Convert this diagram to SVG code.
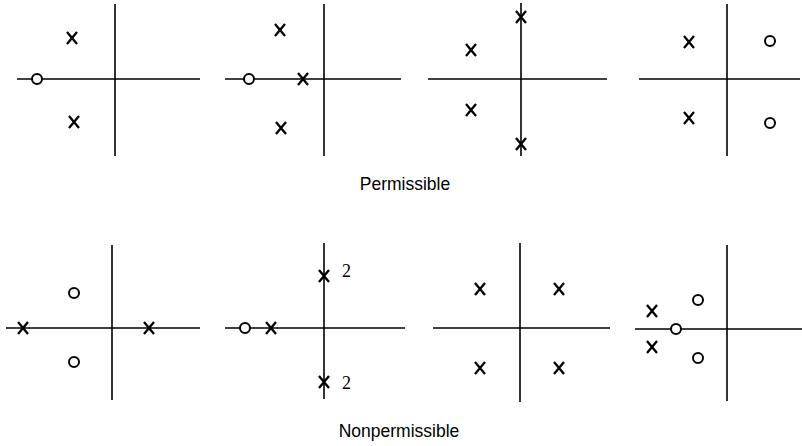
<svg xmlns="http://www.w3.org/2000/svg" xmlns:xlink="http://www.w3.org/1999/xlink" width="802" height="446" viewBox="0 0 802 446">
<style>
.ax{stroke:#000;stroke-width:1.6;fill:none}
.pole{stroke:#000;stroke-width:2.3;fill:none;stroke-linecap:butt}
.zero{stroke:#000;stroke-width:2;fill:#fff}
.lbl{font-family:"Liberation Sans",Arial,sans-serif;font-size:17.5px;fill:#000}
.mult{font-family:"Liberation Serif","Times New Roman",serif;font-size:18px;fill:#000}
</style>
<defs>
<path id="x" class="pole" d="M-5,-6 L5,6 M5,-6 L-5,6"/>
<circle id="o" class="zero" r="5"/>
</defs>
<g id="connectors">
<line class="ax" x1="115" y1="4" x2="115" y2="156"/>
<line class="ax" x1="17" y1="79" x2="200" y2="79"/>
<line class="ax" x1="324" y1="4" x2="324" y2="156"/>
<line class="ax" x1="225" y1="79" x2="401" y2="79"/>
<line class="ax" x1="521" y1="3" x2="521" y2="156"/>
<line class="ax" x1="428" y1="79" x2="607" y2="79"/>
<line class="ax" x1="727" y1="4" x2="727" y2="156"/>
<line class="ax" x1="639" y1="79" x2="800" y2="79"/>
<line class="ax" x1="112" y1="245" x2="112" y2="400"/>
<line class="ax" x1="6" y1="328" x2="200" y2="328"/>
<line class="ax" x1="324" y1="243" x2="324" y2="399"/>
<line class="ax" x1="225" y1="328" x2="405" y2="328"/>
<line class="ax" x1="520" y1="243" x2="520" y2="402"/>
<line class="ax" x1="433" y1="328" x2="610" y2="328"/>
<line class="ax" x1="727" y1="245" x2="727" y2="401"/>
<line class="ax" x1="635" y1="329" x2="802" y2="329"/>
</g>
<g id="p1">
<use xlink:href="#o" x="37" y="79"/>
<use xlink:href="#x" x="72" y="38"/>
<use xlink:href="#x" x="74" y="122"/>
</g>
<g id="p2">
<use xlink:href="#o" x="249" y="79"/>
<use xlink:href="#x" x="303" y="79"/>
<use xlink:href="#x" x="280" y="30"/>
<use xlink:href="#x" x="281" y="128"/>
</g>
<g id="p3">
<use xlink:href="#x" x="471" y="50"/>
<use xlink:href="#x" x="471" y="110"/>
<use xlink:href="#x" x="521" y="17"/>
<use xlink:href="#x" x="521" y="144"/>
</g>
<g id="p4">
<use xlink:href="#x" x="689" y="42"/>
<use xlink:href="#x" x="689" y="118"/>
<use xlink:href="#o" x="770" y="41"/>
<use xlink:href="#o" x="770" y="123"/>
</g>
<g id="label-permissible">
<text class="lbl" x="405" y="190" text-anchor="middle">Permissible</text>
</g>
<g id="p5">
<use xlink:href="#x" x="23" y="328"/>
<use xlink:href="#x" x="149" y="328"/>
<use xlink:href="#o" x="74" y="293"/>
<use xlink:href="#o" x="74" y="362"/>
</g>
<g id="p6">
<use xlink:href="#o" x="245" y="328"/>
<use xlink:href="#x" x="271" y="328"/>
<use xlink:href="#x" x="324" y="276"/>
<use xlink:href="#x" x="324" y="382"/>
<text class="mult" x="342" y="277">2</text>
<text class="mult" x="342" y="389">2</text>
</g>
<g id="p7">
<use xlink:href="#x" x="480" y="289"/>
<use xlink:href="#x" x="559" y="289"/>
<use xlink:href="#x" x="480" y="368"/>
<use xlink:href="#x" x="559" y="368"/>
</g>
<g id="p8">
<use xlink:href="#x" x="652" y="311"/>
<use xlink:href="#x" x="652" y="347"/>
<use xlink:href="#o" x="676" y="329"/>
<use xlink:href="#o" x="698" y="300"/>
<use xlink:href="#o" x="698" y="358"/>
</g>
<g id="label-nonpermissible">
<text class="lbl" x="399" y="437" text-anchor="middle">Nonpermissible</text>
</g>
</svg>
